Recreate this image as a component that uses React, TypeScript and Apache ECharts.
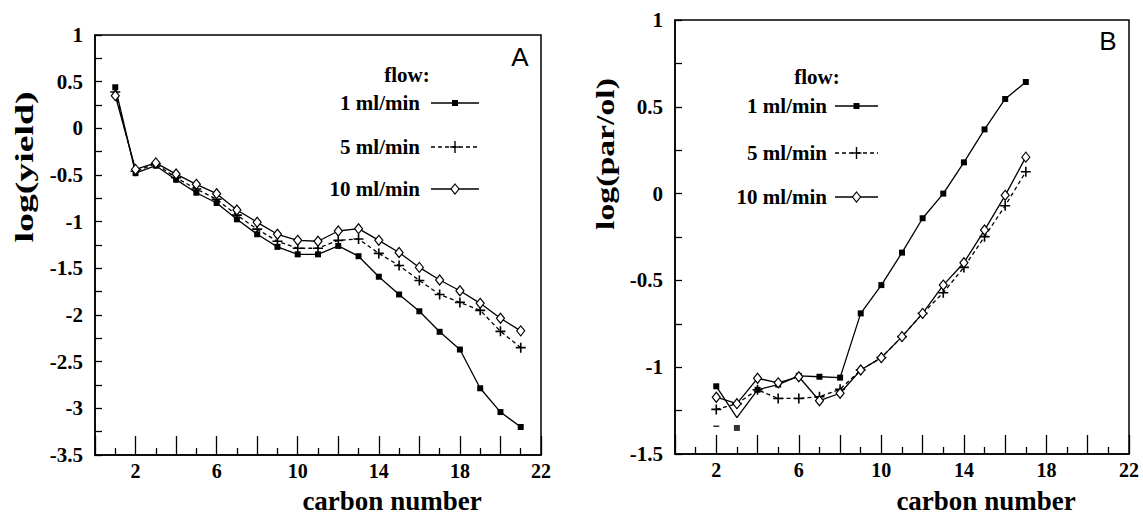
import React, { useEffect, useRef } from "react";
import * as echarts from "echarts";

// ---------- data ----------
const carbonA = [1, 2, 3, 4, 5, 6, 7, 8, 9, 10, 11, 12, 13, 14, 15, 16, 17, 18, 19, 20, 21];
const yieldFlow1 = [0.44, -0.48, -0.4, -0.55, -0.69, -0.8, -0.975, -1.135, -1.27, -1.35, -1.35, -1.26, -1.37, -1.59, -1.78, -1.96, -2.18, -2.37, -2.785, -3.04, -3.2];
const yieldFlow5 = [0.39, -0.46, -0.38, -0.53, -0.65, -0.76, -0.93, -1.08, -1.21, -1.285, -1.285, -1.2, -1.186, -1.34, -1.47, -1.63, -1.78, -1.865, -1.95, -2.175, -2.35];
const yieldFlow10 = [0.35, -0.44, -0.37, -0.49, -0.6, -0.7, -0.875, -1.007, -1.135, -1.2, -1.21, -1.1, -1.075, -1.2, -1.33, -1.49, -1.625, -1.74, -1.875, -2.035, -2.17];

const carbonB = [2, 3, 4, 5, 6, 7, 8, 9, 10, 11, 12, 13, 14, 15, 16, 17];
const ratioFlow1 = [-1.11, -1.29, -1.13, -1.1, -1.05, -1.055, -1.06, -0.69, -0.527, -0.34, -0.142, 0.0, 0.18, 0.37, 0.545, 0.643];
const ratioFlow5 = [-1.243, -1.21, -1.13, -1.18, -1.18, -1.17, -1.127, -1.016, -0.945, -0.824, -0.69, -0.571, -0.425, -0.248, -0.07, 0.126];
const ratioFlow10 = [-1.173, -1.21, -1.064, -1.09, -1.055, -1.193, -1.15, -1.016, -0.945, -0.824, -0.69, -0.527, -0.398, -0.21, -0.01, 0.21];
const ratioFlow1NoMarker = [3]; // line vertex drawn without a marker
const straySquareCarbon = [3];
const straySquareValue = [-1.35];
const strayDashCarbon = [2];
const strayDashValue = [-1.34];

const flowLabels = ["1 ml/min", "5 ml/min", "10 ml/min"];
const xTickLabels = [2, 6, 10, 14, 18, 22];
const panelLetters = ["A", "B"];
const yTitles = ["log(yield)", "log(par/ol)"];
const xTitle = "carbon number";
const legendHeader = "flow:";

// ---------- styles ----------
const SERIF = "Liberation Serif, Times New Roman, serif";
const SANS = "Liberation Sans, Arial, sans-serif";
const PLUS_PATH = "path://M4.2,0H5.8V4.2H10V5.8H5.8V10H4.2V5.8H0V4.2H4.2Z";
const DASH_PATH = "path://M0,0H10V2H0Z";

function pairs(xs: number[], ys: number[]) {
  return xs.map((x, i) => [x, ys[i]]);
}

function measure(text: string, font: string) {
  const c = document.createElement("canvas").getContext("2d");
  if (!c) return text.length * 10;
  c.font = font;
  return c.measureText(text).width;
}

function makeAxes(gridIndex: number, yMin: number) {
  const x = {
    type: "value",
    gridIndex,
    min: 0,
    max: 22,
    interval: 2,
    axisLine: { show: true, onZero: false, lineStyle: { color: "#000", width: 1.5 } },
    axisTick: { show: true, inside: true, length: 19, lineStyle: { color: "#000", width: 1.3 } },
    minorTick: { show: true, splitNumber: 2, length: 7, lineStyle: { color: "#000", width: 1.3 } },
    splitLine: { show: false },
    minorSplitLine: { show: false },
    axisLabel: {
      margin: 6,
      color: "#000",
      fontFamily: SERIF,
      fontWeight: "bold",
      fontSize: 20,
      formatter: (v: number) => (xTickLabels.includes(v) ? String(v) : ""),
    },
  };
  const y = {
    type: "value",
    gridIndex,
    min: yMin,
    max: 1,
    interval: 0.5,
    axisLine: { show: true, onZero: false, lineStyle: { color: "#000", width: 1.5 } },
    axisTick: { show: true, inside: true, length: 7, lineStyle: { color: "#000", width: 1.3 } },
    minorTick: { show: true, splitNumber: 2, length: 7, lineStyle: { color: "#000", width: 1.3 } },
    splitLine: { show: false },
    minorSplitLine: { show: false },
    axisLabel: {
      margin: 12,
      color: "#000",
      fontFamily: SERIF,
      fontWeight: "bold",
      fontSize: 21,
    },
  };
  return { x, y };
}

function seriesSet(idx: number, xs: number[], v1: any[], v5: number[], v10: number[]) {
  return [
    {
      name: flowLabels[0],
      type: "line",
      xAxisIndex: idx,
      yAxisIndex: idx,
      data: v1,
      symbol: "rect",
      symbolSize: 6,
      showAllSymbol: true,
      lineStyle: { color: "#000", width: 1.3, type: "solid" },
      itemStyle: { color: "#000" },
      z: 3,
    },
    {
      name: flowLabels[1],
      type: "line",
      xAxisIndex: idx,
      yAxisIndex: idx,
      data: pairs(xs, v5),
      symbol: PLUS_PATH,
      symbolSize: 10,
      showAllSymbol: true,
      lineStyle: { color: "#000", width: 1.3, type: [4, 3] },
      itemStyle: { color: "#000" },
      z: 4,
    },
    {
      name: flowLabels[2],
      type: "line",
      xAxisIndex: idx,
      yAxisIndex: idx,
      data: pairs(xs, v10),
      symbol: "diamond",
      symbolSize: [8, 10],
      showAllSymbol: true,
      lineStyle: { color: "#000", width: 1.3, type: "solid" },
      itemStyle: { color: "#fff", borderColor: "#000", borderWidth: 1.2 },
      z: 5,
    },
  ];
}

function legendGraphics(headerX: number, headerY: number, textRight: number, ys: number[], l0: number, l1: number) {
  const els: any[] = [];
  const font = { fontFamily: SERIF, fontWeight: "bold", fontSize: 21, fill: "#000" };
  els.push({
    type: "text",
    x: headerX,
    y: headerY,
    style: { text: legendHeader, align: "center", verticalAlign: "middle", ...font },
  });
  const mid = (l0 + l1) / 2;
  ys.forEach((y, i) => {
    els.push({
      type: "text",
      x: textRight,
      y,
      style: { text: flowLabels[i], align: "right", verticalAlign: "middle", ...font },
    });
    els.push({
      type: "line",
      shape: { x1: l0, y1: y, x2: l1, y2: y },
      style: { stroke: "#000", lineWidth: 1.3, lineDash: i === 1 ? [4, 3] : null },
    });
    if (i === 0) {
      els.push({ type: "rect", shape: { x: mid - 3, y: y - 3, width: 6, height: 6 }, style: { fill: "#000" } });
    } else if (i === 1) {
      els.push({ type: "line", shape: { x1: mid, y1: y - 6, x2: mid, y2: y + 6 }, style: { stroke: "#000", lineWidth: 1.4 } });
      els.push({ type: "line", shape: { x1: mid - 5, y1: y, x2: mid + 5, y2: y }, style: { stroke: "#000", lineWidth: 1.4 } });
    } else {
      els.push({
        type: "polygon",
        shape: { points: [[mid, y - 5], [mid + 4, y], [mid, y + 5], [mid - 4, y]] },
        style: { fill: "#fff", stroke: "#000", lineWidth: 1.2 },
      });
    }
  });
  return els;
}

function yTitleGraphic(text: string, cx: number, cy: number, targetLen: number) {
  const size = 25;
  const w = measure(text, `bold ${size}px "Liberation Serif", serif`);
  return {
    type: "text",
    x: cx,
    y: cy,
    rotation: Math.PI / 2,
    scaleX: targetLen / w,
    style: {
      text,
      align: "center",
      verticalAlign: "middle",
      fontFamily: SERIF,
      fontWeight: "bold",
      fontSize: size,
      fill: "#000",
    },
  };
}

export default function App() {
  const ref = useRef<HTMLDivElement>(null);
  useEffect(() => {
    if (!ref.current) return;
    const chart = echarts.init(ref.current, null, { renderer: "svg" });
    const a = makeAxes(0, -3.5);
    const b = makeAxes(1, -1.5);

    const flow1B = carbonB.map((x, i) =>
      ratioFlow1NoMarker.includes(x) ? { value: [x, ratioFlow1[i]], symbol: "none" } : [x, ratioFlow1[i]]
    );

    const option: any = {
      animation: false,
      backgroundColor: "#fff",
      grid: [
        { left: 95, top: 35, width: 446, height: 420, show: true, borderColor: "#000", borderWidth: 1.5, backgroundColor: "transparent" },
        { left: 675, top: 20, width: 454, height: 434, show: true, borderColor: "#000", borderWidth: 1.5, backgroundColor: "transparent" },
      ],
      xAxis: [a.x, b.x],
      yAxis: [a.y, b.y],
      series: [
        ...seriesSet(0, carbonA, pairs(carbonA, yieldFlow1), yieldFlow5, yieldFlow10),
        ...seriesSet(1, carbonB, flow1B, ratioFlow5, ratioFlow10),
        {
          name: "stray square",
          type: "scatter",
          xAxisIndex: 1,
          yAxisIndex: 1,
          data: pairs(straySquareCarbon, straySquareValue),
          symbol: "rect",
          symbolSize: 6,
          itemStyle: { color: "#000" },
        },
        {
          name: "stray dash",
          type: "scatter",
          xAxisIndex: 1,
          yAxisIndex: 1,
          data: pairs(strayDashCarbon, strayDashValue),
          symbol: DASH_PATH,
          symbolSize: [6, 1.5],
          itemStyle: { color: "#000" },
        },
      ],
      graphic: [
        ...legendGraphics(407, 75, 420, [103, 147, 189], 431, 479),
        ...legendGraphics(817, 77, 827, [106, 153, 197], 835, 878),
        {
          type: "text",
          x: 520,
          y: 57,
          style: { text: panelLetters[0], align: "center", verticalAlign: "middle", fontFamily: SANS, fontSize: 26, fill: "#000" },
        },
        {
          type: "text",
          x: 1108,
          y: 41,
          style: { text: panelLetters[1], align: "center", verticalAlign: "middle", fontFamily: SANS, fontSize: 26, fill: "#000" },
        },
        yTitleGraphic(yTitles[0], 24, 167, 151),
        yTitleGraphic(yTitles[1], 606, 154, 152),
        {
          type: "text",
          x: 392,
          y: 501,
          style: { text: xTitle, align: "center", verticalAlign: "middle", fontFamily: SERIF, fontWeight: "bold", fontSize: 27, fill: "#000" },
        },
        {
          type: "text",
          x: 986,
          y: 501,
          style: { text: xTitle, align: "center", verticalAlign: "middle", fontFamily: SERIF, fontWeight: "bold", fontSize: 27, fill: "#000" },
        },
      ],
    };
    chart.setOption(option);
    return () => chart.dispose();
  }, []);
  return (
    <div
      ref={ref}
      style={{ position: "fixed", left: 0, top: 0, width: 1143, height: 520, background: "#fff" }}
    />
  );
}
